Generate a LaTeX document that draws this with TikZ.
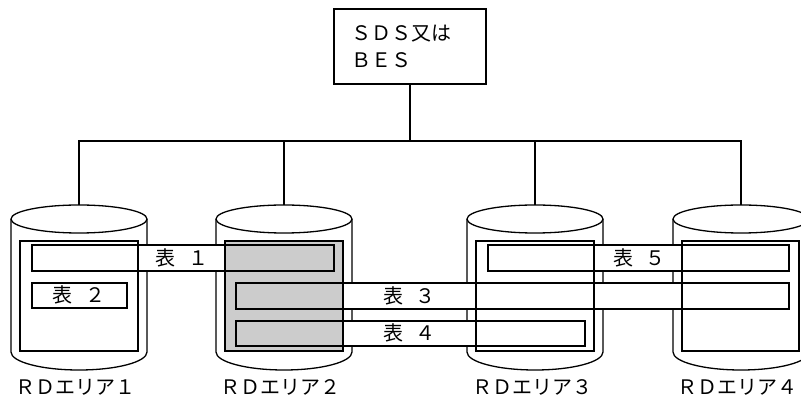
\documentclass[tikz,border=0pt]{standalone}
\usepackage{fontspec}
\newfontfamily\jp{Noto Sans CJK JP}
\definecolor{areagray}{gray}{0.8}
\newcommand\rdcyl[1]{%
  \draw[fill=white] (#1-68,219) -- (#1-68,352)
     arc[start angle=180,end angle=0,x radius=68,y radius=18]
     -- (#1+68,219)
     arc[start angle=0,end angle=-180,x radius=68,y radius=14] -- cycle;
  \draw (#1-68,219) arc[start angle=180,end angle=0,x radius=68,y radius=14];}
\newcommand\hyo[1]{表\kern12.5pt#1}
\begin{document}
\begin{tikzpicture}[x=1pt,y=-1pt,line width=1.3pt,
  jptext/.style={font=\jp\fontsize{20}{24}\selectfont,inner sep=0pt,anchor=base west},
  tblfill/.style={fill=white,inner sep=0pt},
  tbl/.style={draw,inner sep=0pt},
  area/.style={draw,inner sep=0pt,minimum width=118pt,minimum height=110pt}]
\useasboundingbox (0,0) rectangle (801,403);
\clip (0,0) rectangle (801,403);
% server box
\node[draw,minimum width=152pt,minimum height=75pt,inner sep=0pt] (srv) at (410,46.5) {};
\node[jptext] (srv1) at (351,40.5) {ＳＤＳ又は};
\node[jptext] (srv2) at (351,67.5) {ＢＥＳ};
% cylinders
\rdcyl{79}\rdcyl{284}\rdcyl{535}\rdcyl{741}
\coordinate (c1) at (79,205);
\coordinate (c2) at (284,205);
\coordinate (c3) at (535,205);
\coordinate (c4) at (741,205);
\coordinate (b1) at (79,141);
\coordinate (b2) at (284,141);
\coordinate (b3) at (535,141);
\coordinate (b4) at (741,141);
\draw (srv.south) -- (srv.south |- b1);
\draw (c1) -- (b1) -- (b4) -- (c4);
\draw (b2) -- (c2);
\draw (b3) -- (c3);
% table fills
\node[tblfill,minimum width=302pt,minimum height=26pt] at (183,258) {};
\node[tblfill,minimum width=95pt,minimum height=25pt] at (79.5,295.5) {};
\node[tblfill,minimum width=553pt,minimum height=26pt] at (512.5,296) {};
\node[tblfill,minimum width=349pt,minimum height=25pt] at (410.5,333.5) {};
\node[tblfill,minimum width=301pt,minimum height=26pt] at (638.5,258) {};
% gray area
\fill[areagray] (225,241) rectangle (343,351);
% table outlines
\node[tbl,minimum width=302pt,minimum height=26pt] (t1) at (183,258) {};
\node[tbl,minimum width=95pt,minimum height=25pt] (t2) at (79.5,295.5) {};
\node[tbl,minimum width=553pt,minimum height=26pt] (t3) at (512.5,296) {};
\node[tbl,minimum width=349pt,minimum height=25pt] (t4) at (410.5,333.5) {};
\node[tbl,minimum width=301pt,minimum height=26pt] (t5) at (638.5,258) {};
% area frames
\node[area] (f1) at (79,296) {};
\node[area] (f2) at (284,296) {};
\node[area] (f3) at (535,296) {};
\node[area,minimum width=117pt] (f4) at (740.5,296) {};
% table labels
\node[jptext] (l1) at (155,265.5) {\hyo{１}};
\node[jptext] (l2) at (52,302.5) {\hyo{２}};
\node[jptext] (l3) at (382.5,303.5) {\hyo{３}};
\node[jptext] (l4) at (382.5,341) {\hyo{４}};
\node[jptext] (l5) at (612.5,265.5) {\hyo{５}};
% area labels
\node[jptext] (r1) at (15,394.5) {ＲＤエリア１};
\node[jptext] (r2) at (220,394.5) {ＲＤエリア２};
\node[jptext] (r3) at (472,394.5) {ＲＤエリア３};
\node[jptext] (r4) at (677,394.5) {ＲＤエリア４};
\end{tikzpicture}
\end{document}
